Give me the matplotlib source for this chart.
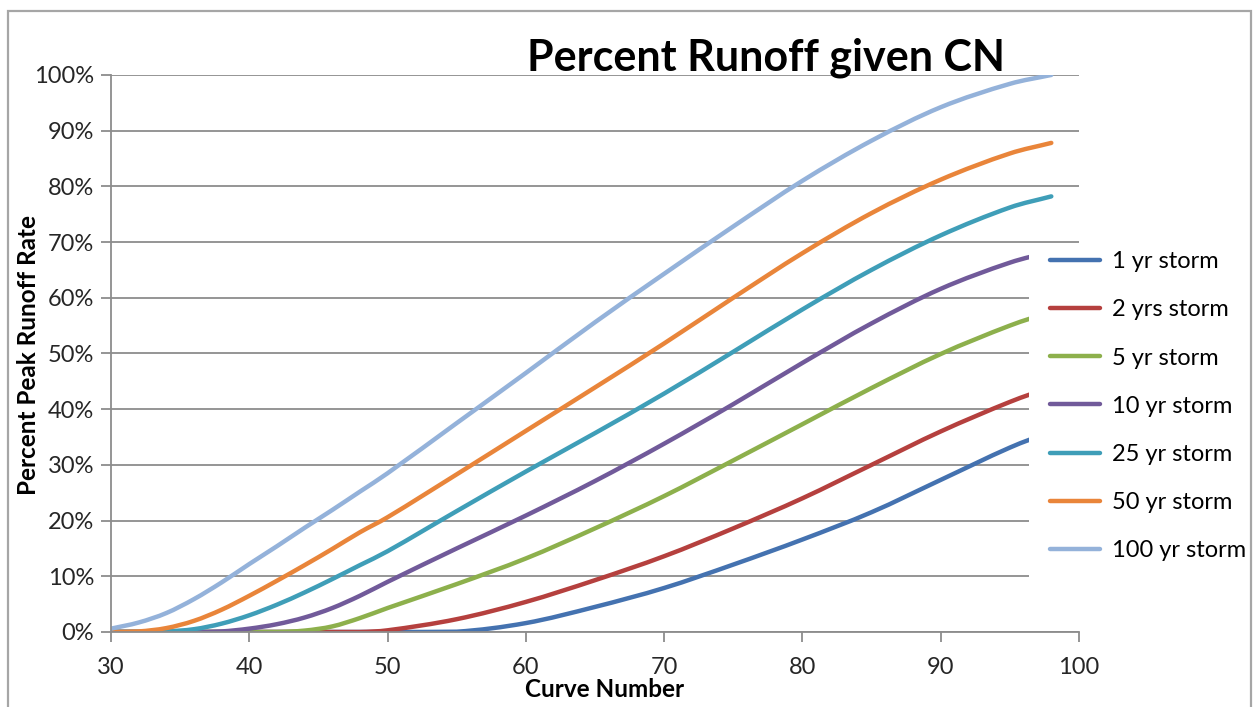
import matplotlib
matplotlib.use("Agg")
import matplotlib.pyplot as plt
from matplotlib.patches import Rectangle, PathPatch
from matplotlib.path import Path
from matplotlib.lines import Line2D
from matplotlib.ticker import PercentFormatter

plt.rcParams['font.family'] = ['Lato', 'DejaVu Sans']

# curve numbers and percent peak runoff rate per storm
cn = [30, 32, 34, 36, 38, 40, 42, 44, 46, 48, 50,
      55, 60, 65, 70, 75, 80, 85, 90, 95, 98]

storm_1yr = [0, 0, 0, 0, 0, 0, 0, 0, 0, 0, 0,
             0.05, 1.6, 4.5, 7.9, 12.1, 16.6, 21.5, 27.3, 33.1, 36.0]
storm_2yr = [0, 0, 0, 0, 0, 0, 0, 0, 0, 0, 0.3,
             2.3, 5.4, 9.3, 13.6, 18.6, 24.0, 30.0, 36.0, 41.3, 44.0]
storm_5yr = [0, 0, 0, 0, 0, 0, 0, 0.25, 1.0, 2.5, 4.3,
             8.6, 13.2, 18.6, 24.4, 30.8, 37.3, 43.8, 49.9, 55.0, 57.5]
storm_10yr = [0, 0, 0, 0, 0.1, 0.6, 1.4, 2.6, 4.3, 6.5, 9.0,
              15.0, 20.9, 27.1, 33.8, 40.9, 48.3, 55.4, 61.6, 66.3, 68.3]
storm_25yr = [0, 0, 0.1, 0.5, 1.5, 3.0, 4.9, 7.1, 9.5, 12.0, 14.5,
              21.7, 28.8, 35.7, 42.8, 50.3, 57.9, 65.0, 71.2, 76.2, 78.2]
storm_50yr = [0, 0.1, 0.7, 2.0, 4.0, 6.5, 9.2, 12.0, 14.9, 17.9, 20.6,
              28.3, 36.1, 43.9, 51.8, 60.0, 68.0, 75.2, 81.2, 85.9, 87.8]
storm_100yr = [0.6, 1.7, 3.4, 5.9, 8.9, 12.2, 15.4, 18.7, 21.9, 25.2, 28.5,
               37.5, 46.5, 55.6, 64.3, 72.8, 81.0, 88.2, 94.2, 98.4, 100.0]

labels = ["1 yr storm", "2 yrs storm", "5 yr storm", "10 yr storm",
          "25 yr storm", "50 yr storm", "100 yr storm"]
series = [storm_1yr, storm_2yr, storm_5yr, storm_10yr,
          storm_25yr, storm_50yr, storm_100yr]
colors = ["#4472B0", "#B5403E", "#8DB04C", "#715A9A",
          "#3F9EB8", "#E9853A", "#94B2DA"]

grid_gray = "#8C8C8C"
line_w = 3.2


def smooth_path(xs, ys):
    """Smoothed line through the points (cubic Hermite written as Bezier)."""
    n = len(xs)
    slopes = []
    for i in range(n):
        a = max(i - 1, 0)
        b = min(i + 1, n - 1)
        slopes.append((ys[b] - ys[a]) / (xs[b] - xs[a]))
    verts = [(xs[0], ys[0])]
    codes = [Path.MOVETO]
    for i in range(n - 1):
        h = xs[i + 1] - xs[i]
        c1 = (xs[i] + h / 3, max(ys[i] + slopes[i] * h / 3, 0))
        c2 = (xs[i + 1] - h / 3, max(ys[i + 1] - slopes[i + 1] * h / 3, 0))
        verts += [c1, c2, (xs[i + 1], ys[i + 1])]
        codes += [Path.CURVE4] * 3
    return Path(verts, codes)


fig = plt.figure(figsize=(12.53, 7.07), dpi=100)
ax = fig.add_axes([0.0886, 0.1061, 0.7725, 0.7879])

handles = []
for vals, lab, col in zip(series, labels, colors):
    path = smooth_path(cn, [v / 100 for v in vals])
    ax.add_patch(PathPatch(path, facecolor='none', edgecolor=col,
                           lw=line_w, capstyle='round', joinstyle='round'))
    handles.append(Line2D([], [], color=col, lw=line_w,
                          solid_capstyle='round', label=lab))

ax.set_xlim(30, 100)
ax.set_ylim(0, 1)
ax.set_xticks(range(30, 101, 10))
ax.set_yticks([i / 10 for i in range(11)])
ax.yaxis.set_major_formatter(PercentFormatter(1.0, decimals=0))
ax.grid(axis='y', color=grid_gray, lw=1.3)
ax.set_axisbelow(True)

for side in ('top', 'right'):
    ax.spines[side].set_visible(False)
for side in ('left', 'bottom'):
    ax.spines[side].set_color(grid_gray)
    ax.spines[side].set_linewidth(1.3)

ax.tick_params(axis='both', colors=grid_gray, labelcolor='#262626',
               labelsize=17, width=1.3)
ax.tick_params(axis='x', length=7, pad=11)
ax.tick_params(axis='y', length=7, pad=5)

ax.set_xlabel("Curve Number", fontsize=17.5, fontweight='bold')
ax.xaxis.set_label_coords(0.51, -0.082)
ax.set_ylabel("Percent Peak Runoff Rate", fontsize=17.5, fontweight='bold')
ax.yaxis.set_label_coords(-0.0735, 0.497)

fig.text(0.611, 0.919, "Percent Runoff given CN", fontsize=31,
         fontweight='bold', ha='center', va='center')

# white backing behind the legend, it hides the line ends on the right
fig.patches.append(Rectangle((1029 / 1253, 1 - 590 / 707),
                             221 / 1253, 343 / 707,
                             transform=fig.transFigure, facecolor='white',
                             edgecolor='none', zorder=1))

fig.legend(handles=handles, loc='upper left',
           bbox_to_anchor=(1029 / 1253, 1 - 230 / 707),
           fontsize=17, frameon=False,
           handlelength=2.1, handletextpad=0.5, labelspacing=1.15,
           borderpad=0.4)

# thin frame around the chart area
fig.patches.append(Rectangle((0.0066, -0.01), 0.9920, 0.9945,
                             transform=fig.transFigure, fill=False,
                             edgecolor='#A6A6A6', lw=1.6, zorder=2))

fig.savefig("out.png", dpi=100)
